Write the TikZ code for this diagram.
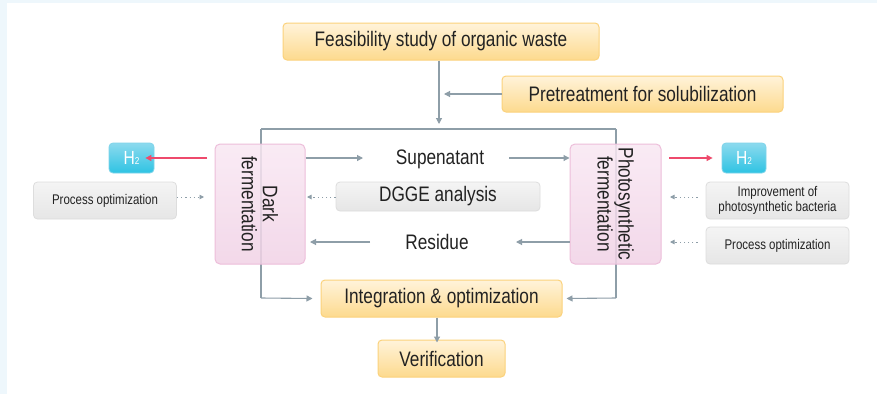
\documentclass[tikz,border=0pt]{standalone}
\usepackage{fontspec}
\setmainfont{Liberation Sans}[FakeStretch=0.82]
\usetikzlibrary{arrows.meta}
\definecolor{bgblue}{HTML}{EEF7FC}
\definecolor{orbd}{HTML}{FBD27C}
\definecolor{ortop}{HTML}{FFF3DA}
\definecolor{orbot}{HTML}{FDDA8E}
\definecolor{pkbd}{HTML}{EDBEDA}
\definecolor{pktop}{HTML}{F9E8F3}
\definecolor{pkbot}{HTML}{F1D2E6}
\definecolor{gybd}{HTML}{DDDDDD}
\definecolor{gytop}{HTML}{F4F4F4}
\definecolor{gybot}{HTML}{E6E6E6}
\definecolor{cytop}{HTML}{8CDAEE}
\definecolor{cybot}{HTML}{2EC3E3}
\definecolor{cybd}{HTML}{7FD4EA}
\definecolor{lngray}{HTML}{8E9EA8}
\definecolor{lnred}{HTML}{EE4A6C}
\definecolor{txt}{HTML}{222222}
\begin{document}
\begin{tikzpicture}[x=1pt,y=-1pt,
  every node/.style={text=txt},
  obox/.style={draw=orbd, line width=1pt, rounded corners=4pt, top color=ortop, bottom color=orbot, inner sep=0pt, font=\fontsize{21}{24}\selectfont},
  pbox/.style={draw=pkbd, line width=1pt, rounded corners=5pt, top color=pktop, bottom color=pkbot, fill opacity=0.85, inner sep=0pt},
  gbox/.style={draw=gybd, line width=0.8pt, rounded corners=4pt, top color=gytop, bottom color=gybot, inner sep=0pt, font=\fontsize{14}{15}\selectfont, align=center},
  hbox/.style={draw=cybd, line width=0.8pt, rounded corners=4pt, top color=cytop, bottom color=cybot, inner sep=0pt, text=white, font=\fontsize{19}{22}\selectfont},
  plain/.style={font=\fontsize{21}{24}\selectfont},
  ftext/.style={rotate=-90, align=center, font=\fontsize{21}{21}\selectfont},
  ln/.style={draw=lngray, line width=1.1pt},
  arr/.style={ln, -{Triangle[length=6pt,width=6pt]}},
  rarr/.style={draw=lnred, line width=1.3pt, -{Triangle[length=6pt,width=6pt]}},
  darr/.style={draw=lngray, line width=0.9pt, dash pattern=on 1.2pt off 3pt, -{Triangle[length=4.5pt,width=4.5pt]}}
]
\fill[bgblue] (0,0) rectangle (877,394);
\fill[white] (7,3) rectangle (877,394);
\useasboundingbox (0,0) rectangle (877,394);

% main boxes
\node[obox, minimum width=316pt, minimum height=37pt] (feas) at (441,41.5) {Feasibility study of organic waste};
\node[obox, minimum width=281pt, minimum height=36pt] (pre) at (642.5,94) {Pretreatment for solubilization};
\node[obox, minimum width=241pt, minimum height=37pt] (integ) at (441.5,298.5) {Integration \& optimization};
\node[obox, minimum width=127pt, minimum height=37pt] (ver) at (441.5,358.5) {Verification};

% junction line
\coordinate (jl) at (261,129);
\coordinate (jr) at (616,129);
\coordinate (jt) at (439,124);
\coordinate (jp) at (444,94);
\coordinate (bl) at (261,298);
\coordinate (br) at (616,298);

\draw[ln] (jl) -- (jr);
\draw[ln] (jl) -- (bl);
\draw[ln] (jr) -- (br);

% fermentation boxes
\node[pbox, minimum width=90pt, minimum height=120pt] (dark) at (260,204) {};
\node[pbox, minimum width=91pt, minimum height=120pt] (photo) at (615.5,204) {};

\draw[arr] (bl) -- ([xshift=-8pt]integ.west);
\draw[arr] (br) -- ([xshift=4pt]integ.east);
\draw[arr] (feas.south -| jt) -- (jt);
\draw[arr] (pre.west) -- (jp);
\draw[arr] (integ.south -| 437,0) -- ([yshift=-3pt]ver.north -| 437,0);

\node[ftext] (darkt) at (dark.center) {Dark\\fermentation};
\node[ftext] (photot) at (photo.center) {Photosynthetic\\fermentation};

% middle texts
\node[plain] (sup) at (440,159) {Supenatant};
\node[plain] (res) at (437,242) {Residue};
\node[gbox, minimum width=204pt, minimum height=29pt, font=\fontsize{21}{24}\selectfont] (dgge) at (438,196.5) {DGGE analysis};

\coordinate (s1) at (363,158);
\coordinate (s2) at (509,158);
\coordinate (r1) at (370,242);
\coordinate (r2) at (310,242);
\coordinate (r3) at (516,242);
\draw[arr] (dark.east |- s1) -- (s1);
\draw[arr] (s2) -- (photo.west |- s2);
\draw[arr] (r1) -- (r2);
\draw[arr] (photo.west |- r3) -- (r3);

% H2
\node[hbox, minimum width=45pt, minimum height=30pt] (h2l) at (131.5,158) {H{\fontsize{10}{11}\selectfont 2}};
\node[hbox, minimum width=44pt, minimum height=30pt] (h2r) at (744,158) {H{\fontsize{10}{11}\selectfont 2}};
\coordinate (hl) at (207,158);
\coordinate (hr) at (669,158);
\draw[rarr] (hl) -- ([xshift=-9pt]h2l.east |- hl);
\draw[rarr] (hr) -- ([xshift=-9pt]h2r.west |- hr);

% gray side boxes
\node[gbox, minimum width=143pt, minimum height=37pt] (pol) at (105,200.5) {Process optimization};
\node[gbox, minimum width=143pt, minimum height=37pt] (imp) at (777.5,200.5) {Improvement of\\photosynthetic bacteria};
\node[gbox, minimum width=143pt, minimum height=37pt] (por) at (777.5,245.5) {Process optimization};

\coordinate (d1) at (204,197);
\coordinate (d2) at (307,197);
\coordinate (d3) at (670,197);
\coordinate (d4) at (670,242);
\draw[darr] (pol.east |- d1) -- (d1);
\draw[darr] (dgge.west |- d2) -- (d2);
\draw[darr] ([xshift=-8pt]imp.west |- d3) -- (d3);
\draw[darr] ([xshift=-8pt]por.west |- d4) -- (d4);
\end{tikzpicture}
\end{document}
